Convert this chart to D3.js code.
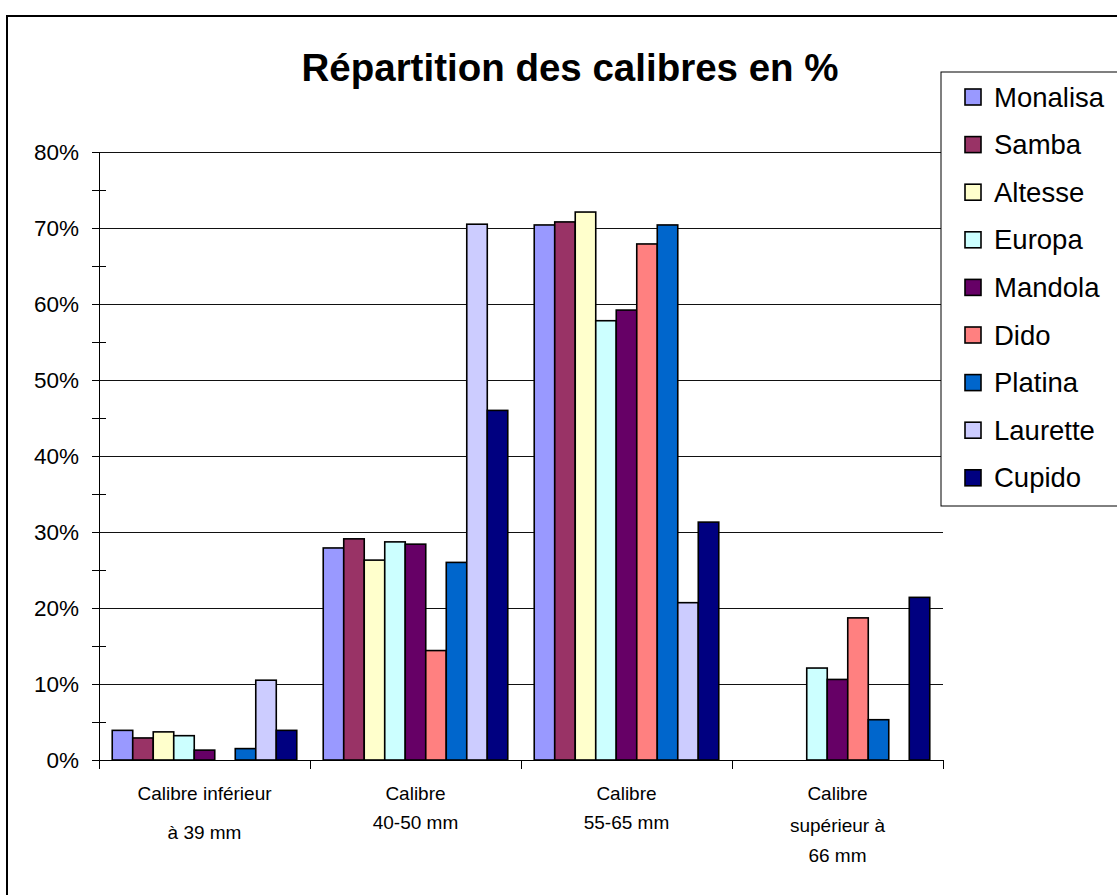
<!DOCTYPE html>
<html><head><meta charset="utf-8">
<script src="https://cdn.jsdelivr.net/npm/d3@7/dist/d3.min.js"></script>
<style>body{margin:0;background:#fff}svg{display:block;font-family:"Liberation Sans",Arial,sans-serif}</style>
</head><body><svg id="c" width="1117" height="895"></svg>
<script>
const categories = ["inf39","40-50","55-65","sup66"];
const categoryLabels = [["Calibre inférieur","à 39 mm"],["Calibre","40-50 mm"],["Calibre","55-65 mm"],["Calibre","supérieur à","66 mm"]];
const series = ["Monalisa","Samba","Altesse","Europa","Mandola","Dido","Platina","Laurette","Cupido"];
const colors = ["#9999FF","#993366","#FFFFCC","#CCFFFF","#660066","#FF8080","#0066CC","#CCCCFF","#000080"];
const Monalisa = [3.9, 27.9, 70.4, null];
const Samba    = [2.9, 29.1, 70.8, null];
const Altesse  = [3.7, 26.3, 72.1, null];
const Europa   = [3.2, 28.7, 57.8, 12.1];
const Mandola  = [1.3, 28.4, 59.2, 10.6];
const Dido     = [null, 14.4, 67.9, 18.7];
const Platina  = [1.5, 26.0, 70.4, 5.3];
const Laurette = [10.5, 70.5, 20.7, null];
const Cupido   = [3.9, 46.0, 31.3, 21.4];
const values = [Monalisa,Samba,Altesse,Europa,Mandola,Dido,Platina,Laurette,Cupido];
const yTicks = [0,10,20,30,40,50,60,70,80];
const yMinor = [5,15,25,35,45,55,65,75];
const title = "Répartition des calibres en %";

const svg = d3.select("#c");
const L=99,R=943,T=152,B=760;
// outer frame
svg.append("rect").attr("x",7).attr("y",16).attr("width",1200).attr("height",1000)
  .attr("fill","none").attr("stroke","#000").attr("stroke-width",2);
svg.append("text").attr("x",570).attr("y",81).attr("text-anchor","middle")
  .attr("font-size",38.5).attr("font-weight","bold").text(title);

const x0 = d3.scaleBand().domain(categories).range([L,R]).padding(0);
const x1 = d3.scaleBand().domain(series).range([0,x0.bandwidth()]).paddingInner(0).paddingOuter(0.645);
const y = d3.scaleLinear().domain([0,80]).range([B,T]);

// gridlines
svg.append("g").selectAll("line").data(yTicks.slice(1)).join("line")
  .attr("x1",L).attr("x2",R).attr("y1",d=>y(d)).attr("y2",d=>y(d))
  .attr("stroke","#111").attr("stroke-width",1).attr("shape-rendering","crispEdges");

// y axis
const ya = svg.append("g").attr("transform",`translate(${L},0)`)
  .call(d3.axisLeft(y).tickValues(yTicks).tickSize(7).tickPadding(13).tickFormat(d=>d+"%"));
ya.select(".domain").attr("stroke","#000");
ya.selectAll("text").attr("font-size",22.5).attr("fill","#000").attr("font-family","Liberation Sans, Arial, sans-serif");
svg.append("g").selectAll("line").data(yMinor).join("line")
  .attr("x1",L-7).attr("x2",L+7).attr("y1",d=>y(d)).attr("y2",d=>y(d))
  .attr("stroke","#000").attr("shape-rendering","crispEdges");

// bars
const data=[];
categories.forEach((c,i)=>series.forEach((s,j)=>{ if(values[j][i]!=null) data.push({c,s,v:values[j][i],col:colors[j]}); }));
svg.append("g").selectAll("rect").data(data).join("rect")
  .attr("x",d=>x0(d.c)+x1(d.s)).attr("width",x1.bandwidth())
  .attr("y",d=>y(d.v)).attr("height",d=>B-y(d.v))
  .attr("fill",d=>d.col).attr("stroke","#000").attr("stroke-width",1.6);

// x axis
svg.append("line").attr("x1",L).attr("x2",R).attr("y1",B).attr("y2",B).attr("stroke","#000").attr("shape-rendering","crispEdges");
const bounds = categories.map(c=>x0(c)).concat([R]);
svg.append("g").selectAll("line").data(bounds).join("line")
  .attr("x1",d=>d).attr("x2",d=>d).attr("y1",B).attr("y2",B+9).attr("stroke","#000").attr("shape-rendering","crispEdges");
const lineY = [[800,839],[800,829],[800,829],[800,832,862]];
categories.forEach((c,i)=>{
  const t = svg.append("text").attr("text-anchor","middle").attr("font-size",19);
  categoryLabels[i].forEach((ln,k)=>t.append("tspan").attr("x",x0(c)+x0.bandwidth()/2).attr("y",lineY[i][k]).text(ln));
});

// legend
const lg = svg.append("g");
lg.append("rect").attr("x",941).attr("y",72).attr("width",200).attr("height",434).attr("fill","#fff").attr("stroke","#000");
series.forEach((s,j)=>{
  const cy = 97 + j*47.6;
  lg.append("rect").attr("x",965).attr("y",cy-8).attr("width",16).attr("height",16).attr("fill",colors[j]).attr("stroke","#000").attr("stroke-width",1.6);
  lg.append("text").attr("x",994).attr("y",cy+9.5).attr("font-size",27.5).text(s);
});
</script></body></html>
